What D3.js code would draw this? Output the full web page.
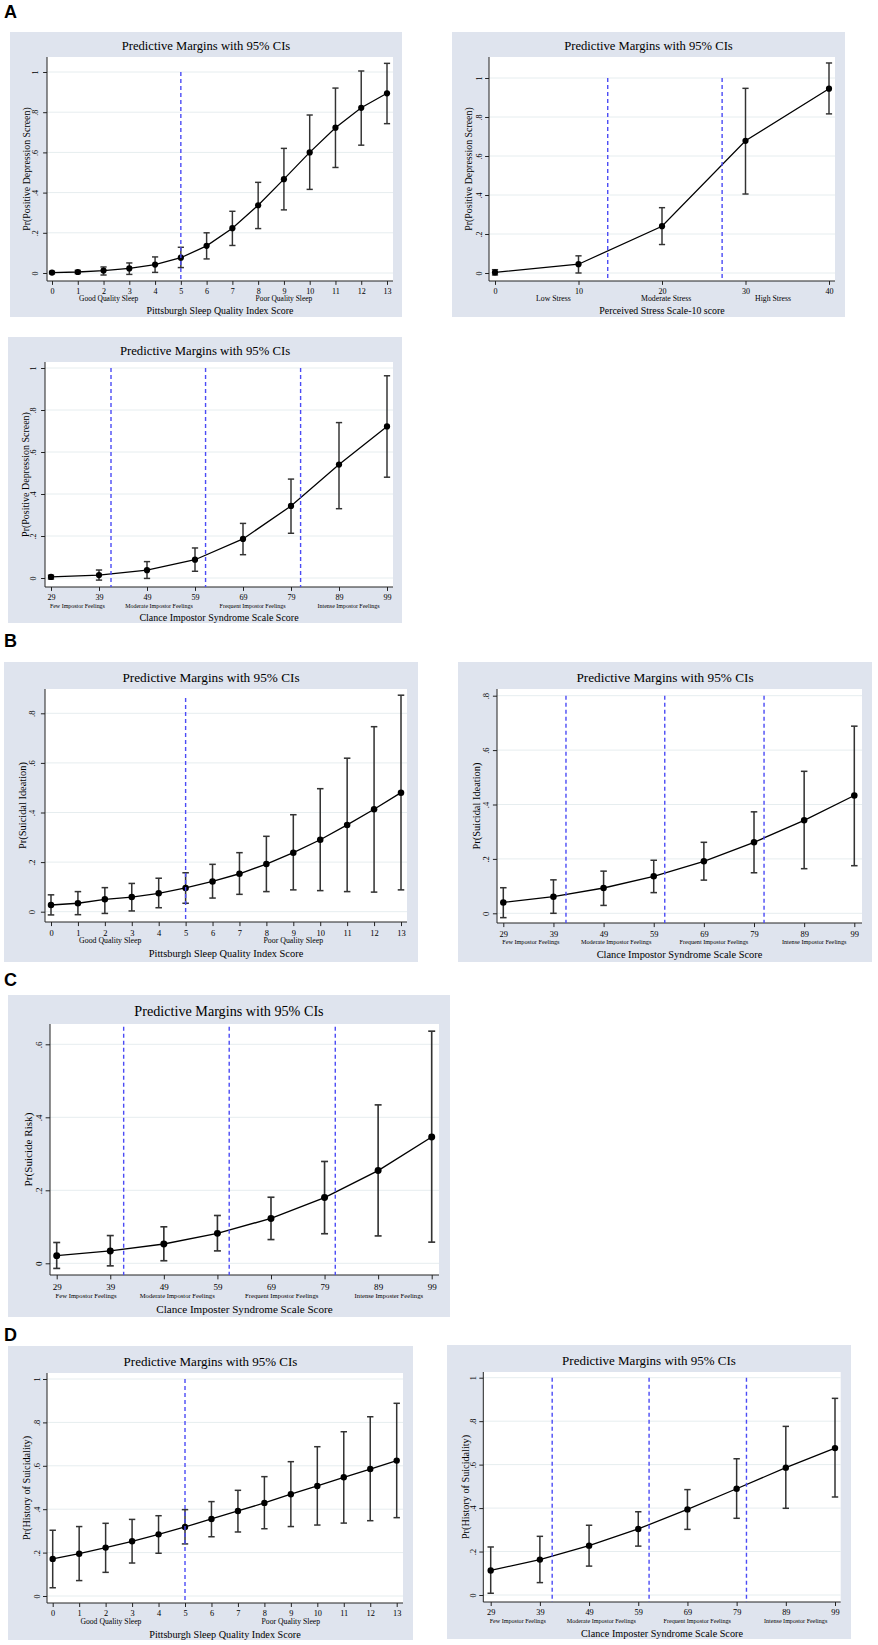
<!DOCTYPE html>
<html>
<head>
<meta charset="utf-8">
<script src="https://cdn.jsdelivr.net/npm/d3@7"></script>
<style>
  body { margin: 0; background: #fff; }
  svg { display: block; }
</style>
</head>
<body>
<svg id="chart" width="878" height="1645"></svg>
<script>
// x categories
const psqiScores = [0, 1, 2, 3, 4, 5, 6, 7, 8, 9, 10, 11, 12, 13];
const pssScores = [0, 10, 20, 30, 40];
const cisScores = [29, 39, 49, 59, 69, 79, 89, 99];

// y tick values
const yTicksTo1 = [0, 0.2, 0.4, 0.6, 0.8, 1];
const yTicksTo08 = [0, 0.2, 0.4, 0.6, 0.8];
const yTicksTo06 = [0, 0.2, 0.4, 0.6];

// A - positive depression screen
const depPsqiMargin = [0.002, 0.005, 0.012, 0.023, 0.042, 0.076, 0.135, 0.223, 0.337, 0.467, 0.600, 0.723, 0.822, 0.894];
const depPsqiLower  = [-0.004, -0.003, -0.010, -0.007, 0.003, 0.027, 0.070, 0.137, 0.221, 0.314, 0.416, 0.525, 0.636, 0.743];
const depPsqiUpper  = [0.008, 0.013, 0.030, 0.050, 0.080, 0.128, 0.200, 0.307, 0.451, 0.620, 0.786, 0.920, 1.005, 1.043];

const depPssMargin = [0.003, 0.045, 0.240, 0.678, 0.945];
const depPssLower  = [-0.010, 0.000, 0.146, 0.405, 0.816];
const depPssUpper  = [0.017, 0.088, 0.335, 0.947, 1.077];

const depCisMargin = [0.005, 0.014, 0.037, 0.087, 0.186, 0.343, 0.540, 0.722];
const depCisLower  = [-0.005, -0.010, -0.002, 0.032, 0.111, 0.213, 0.330, 0.480];
const depCisUpper  = [0.013, 0.038, 0.078, 0.143, 0.260, 0.471, 0.740, 0.963];

// B - suicidal ideation
const ideaPsqiMargin = [0.027, 0.034, 0.050, 0.059, 0.074, 0.096, 0.122, 0.153, 0.192, 0.238, 0.290, 0.350, 0.413, 0.480];
const ideaPsqiLower  = [-0.013, -0.012, -0.007, 0.003, 0.016, 0.034, 0.055, 0.070, 0.081, 0.088, 0.085, 0.081, 0.079, 0.088];
const ideaPsqiUpper  = [0.068, 0.081, 0.097, 0.114, 0.135, 0.157, 0.191, 0.238, 0.304, 0.391, 0.496, 0.619, 0.746, 0.873];

const ideaCisMargin = [0.040, 0.061, 0.093, 0.136, 0.191, 0.261, 0.342, 0.433];
const ideaCisLower  = [-0.016, 0.000, 0.029, 0.076, 0.122, 0.149, 0.164, 0.175];
const ideaCisUpper  = [0.094, 0.123, 0.155, 0.195, 0.261, 0.373, 0.522, 0.688];

// C - suicide risk
const riskCisMargin = [0.021, 0.034, 0.053, 0.082, 0.123, 0.180, 0.254, 0.346];
const riskCisLower  = [-0.014, -0.007, 0.007, 0.034, 0.065, 0.081, 0.075, 0.058];
const riskCisUpper  = [0.057, 0.076, 0.100, 0.131, 0.181, 0.279, 0.434, 0.636];

// D - history of suicidality
const histPsqiMargin = [0.171, 0.195, 0.223, 0.252, 0.284, 0.318, 0.355, 0.392, 0.429, 0.469, 0.507, 0.547, 0.585, 0.624];
const histPsqiLower  = [0.038, 0.071, 0.109, 0.152, 0.197, 0.240, 0.273, 0.295, 0.310, 0.320, 0.327, 0.336, 0.347, 0.361];
const histPsqiUpper  = [0.303, 0.320, 0.335, 0.353, 0.370, 0.398, 0.435, 0.487, 0.550, 0.619, 0.688, 0.757, 0.826, 0.888];

const histCisMargin = [0.113, 0.163, 0.227, 0.304, 0.394, 0.489, 0.586, 0.676];
const histCisLower  = [0.008, 0.057, 0.133, 0.225, 0.302, 0.353, 0.399, 0.451];
const histCisUpper  = [0.221, 0.270, 0.321, 0.383, 0.485, 0.627, 0.776, 0.905];

// cut-offs (dashed lines)
const psqiCutoffs = [5];
const pssCutoffs = [13.5, 27.2];
const cisCutoffs = [41.5, 61.2, 81];

// band labels under the x axis
const psqiBands = ["Good Quality Sleep", "Poor Quality Sleep"];
const psqiBandAt = [2.2, 9.0];
const pssBands = ["Low Stress", "Moderate Stress", "High Stress"];
const pssBandAt = [7, 20.5, 33.3];
const cisBands = ["Few Impostor Feelings", "Moderate Impostor Feelings", "Frequent Impostor Feelings", "Intense Impostor Feelings"];
const cisBandsC = ["Few Impostor Feelings", "Moderate Impostor Feelings", "Frequent Impostor Feelings", "Intense Imposter Feelings"];
const cisBandAt = [34.5, 51.5, 71, 91];

const plotTitle = "Predictive Margins with 95% CIs";
const psqiTitle = "Pittsburgh Sleep Quality Index Score";
const pssTitle = "Perceived Stress Scale-10 score";
const cisTitle = "Clance Impostor Syndrome Scale Score";
const cisTitleAlt = "Clance Imposter Syndrome Scale Score";

const sectionLetters = ["A", "B", "C", "D"];

const svg = d3.select("#chart");
const serif = "'Liberation Serif', 'Times New Roman', serif";
const boxFill = "#dfe4ee";
const gridColour = "#e6edef";
const cutColour = "#4b4bf5";

const fmtY = d => d === 0 ? "0" : d === 1 ? "1" : d3.format(".1f")(d).replace(/^0/, "");

function drawPanel(p) {
  const [bx0, by0, bx1, by1] = p.box;
  const [pl, pt, pr, pb] = p.plot;
  const s = p.s;
  const x = d3.scaleLinear().domain([p.xs[0], p.xs[p.xs.length - 1]]).range(p.xPx);
  const y = d3.scaleLinear().domain([0, p.yTicks[p.yTicks.length - 1]]).range(p.yPx);

  const g = svg.append("g").attr("class", "panel");

  g.append("rect")
    .attr("x", bx0).attr("y", by0)
    .attr("width", bx1 - bx0).attr("height", by1 - by0)
    .attr("fill", boxFill);

  g.append("rect")
    .attr("x", pl).attr("y", pt)
    .attr("width", pr - pl).attr("height", pb - pt)
    .attr("fill", "#fff");

  // grid
  g.append("g").selectAll("line")
    .data(p.yTicks)
    .join("line")
    .attr("x1", pl).attr("x2", pr)
    .attr("y1", d => y(d)).attr("y2", d => y(d))
    .attr("stroke", gridColour)
    .attr("stroke-width", 1);

  // x axis
  const xAxis = g.append("g")
    .attr("transform", `translate(0,${pb})`)
    .call(d3.axisBottom(x).tickValues(p.xs).tickSize(4 * s).tickSizeOuter(0)
      .tickPadding(7.6 * s - 4));
  xAxis.select(".domain").remove();
  xAxis.selectAll("line").attr("stroke", "#222");
  xAxis.selectAll("text")
    .attr("font-family", serif)
    .attr("font-size", 8.3 * s)
    .attr("fill", "#000");

  // y axis
  const yAxis = g.append("g")
    .attr("transform", `translate(${pl},0)`)
    .call(d3.axisLeft(y).tickValues(p.yTicks).tickFormat(fmtY).tickSize(4 * s).tickSizeOuter(0));
  yAxis.select(".domain").remove();
  yAxis.selectAll("line").attr("stroke", "#222");
  yAxis.selectAll("text")
    .attr("x", null)
    .attr("dy", "0.35em")
    .attr("text-anchor", "middle")
    .attr("transform", `translate(${p.yLabX - pl},0) rotate(-90)`)
    .attr("font-family", serif)
    .attr("font-size", 8.3 * s)
    .attr("fill", "#000");

  // axis lines along the plot edges
  g.append("line")
    .attr("x1", pl).attr("x2", pr).attr("y1", pb).attr("y2", pb)
    .attr("stroke", "#222").attr("stroke-width", 1);
  g.append("line")
    .attr("x1", pl).attr("x2", pl).attr("y1", pt).attr("y2", pb)
    .attr("stroke", "#222").attr("stroke-width", 1);

  const pts = p.xs.map((v, i) => ({ x: v, m: p.margin[i], lo: p.lower[i], hi: p.upper[i] }));
  const cap = 3.2 * s;

  // error bars
  const bars = g.append("g").attr("stroke", "#333").attr("stroke-width", 1.5 * s);
  bars.selectAll(".ci")
    .data(pts)
    .join("line")
    .attr("class", "ci")
    .attr("x1", d => x(d.x)).attr("x2", d => x(d.x))
    .attr("y1", d => y(d.lo)).attr("y2", d => y(d.hi));
  bars.selectAll(".capHi")
    .data(pts)
    .join("line")
    .attr("class", "capHi")
    .attr("x1", d => x(d.x) - cap).attr("x2", d => x(d.x) + cap)
    .attr("y1", d => y(d.hi)).attr("y2", d => y(d.hi));
  bars.selectAll(".capLo")
    .data(pts)
    .join("line")
    .attr("class", "capLo")
    .attr("x1", d => x(d.x) - cap).attr("x2", d => x(d.x) + cap)
    .attr("y1", d => y(d.lo)).attr("y2", d => y(d.lo));

  // connecting line
  g.append("path")
    .datum(pts)
    .attr("fill", "none")
    .attr("stroke", "#000")
    .attr("stroke-width", 1.3 * s)
    .attr("d", d3.line().x(d => x(d.x)).y(d => y(d.m)));

  g.append("g").selectAll("circle")
    .data(pts)
    .join("circle")
    .attr("cx", d => x(d.x))
    .attr("cy", d => y(d.m))
    .attr("r", 3.2 * s)
    .attr("fill", "#000");

  // cut-off lines
  g.append("g").selectAll("line")
    .data(p.cuts)
    .join("line")
    .attr("x1", d => x(d)).attr("x2", d => x(d))
    .attr("y1", y(p.lineTop)).attr("y2", pb)
    .attr("stroke", cutColour)
    .attr("stroke-width", 1.4)
    .attr("stroke-dasharray", "4,3");

  // texts
  g.append("text")
    .attr("x", (bx0 + bx1) / 2)
    .attr("y", pt - 7 * s)
    .attr("text-anchor", "middle")
    .attr("font-family", serif)
    .attr("font-size", 13 * p.ts)
    .text(plotTitle);

  g.append("g").selectAll("text")
    .data(p.bands)
    .join("text")
    .attr("x", (d, i) => x(p.bandAt[i]))
    .attr("y", pb + 21 * s)
    .attr("text-anchor", "middle")
    .attr("font-family", serif)
    .attr("font-size", p.bandSize * s)
    .text(d => d);

  g.append("text")
    .attr("x", (pl + pr) / 2)
    .attr("y", pb + 34.5 * s)
    .attr("text-anchor", "middle")
    .attr("font-family", serif)
    .attr("font-size", 10.2 * s)
    .text(p.xTitle);

  g.append("text")
    .attr("transform", `translate(${p.yTitX},${(pt + pb) / 2}) rotate(-90)`)
    .attr("dy", "0.35em")
    .attr("text-anchor", "middle")
    .attr("font-family", serif)
    .attr("font-size", 10.2 * s)
    .text(p.yTitle);
}

const panels = [
  { box: [10, 32, 402, 317], plot: [47, 57, 393, 281], xPx: [52, 387], yPx: [273, 72], s: 0.97, ts: 0.97,
    yLabX: 35, yTitX: 27, lineTop: 1, xs: psqiScores, yTicks: yTicksTo1,
    margin: depPsqiMargin, lower: depPsqiLower, upper: depPsqiUpper, cuts: psqiCutoffs,
    bands: psqiBands, bandAt: psqiBandAt, bandSize: 7.7, xTitle: psqiTitle, yTitle: "Pr(Positive Depression Screen)" },
  { box: [452, 32, 845, 317], plot: [489, 57, 835, 281], xPx: [495, 829], yPx: [273, 78], s: 0.97, ts: 0.97,
    yLabX: 479, yTitX: 469, lineTop: 1, xs: pssScores, yTicks: yTicksTo1,
    margin: depPssMargin, lower: depPssLower, upper: depPssUpper, cuts: pssCutoffs,
    bands: pssBands, bandAt: pssBandAt, bandSize: 8, xTitle: pssTitle, yTitle: "Pr(Positive Depression Screen)" },
  { box: [8, 337, 402, 623], plot: [45, 362, 393, 587], xPx: [51, 387], yPx: [578, 368], s: 0.98, ts: 0.98,
    yLabX: 33, yTitX: 25, lineTop: 1, xs: cisScores, yTicks: yTicksTo1,
    margin: depCisMargin, lower: depCisLower, upper: depCisUpper, cuts: cisCutoffs,
    bands: cisBands, bandAt: cisBandAt, bandSize: 6.1, xTitle: cisTitle, yTitle: "Pr(Positive Depression Screen)" },
  { box: [4, 662, 418, 962], plot: [45, 689, 407, 922], xPx: [51, 401], yPx: [911.7, 713.3], s: 1.02, ts: 1.02,
    yLabX: 32, yTitX: 22, lineTop: 0.862, xs: psqiScores, yTicks: yTicksTo08,
    margin: ideaPsqiMargin, lower: ideaPsqiLower, upper: ideaPsqiUpper, cuts: psqiCutoffs,
    bands: psqiBands, bandAt: psqiBandAt, bandSize: 7.7, xTitle: psqiTitle, yTitle: "Pr(Suicidal Ideation)" },
  { box: [458, 662, 872, 962], plot: [497, 689, 862, 923], xPx: [503.3, 854.3], yPx: [913.3, 695.7], s: 1.02, ts: 1.02,
    yLabX: 486, yTitX: 476.7, lineTop: 0.8, xs: cisScores, yTicks: yTicksTo08,
    margin: ideaCisMargin, lower: ideaCisLower, upper: ideaCisUpper, cuts: cisCutoffs,
    bands: cisBands, bandAt: cisBandAt, bandSize: 6.1, xTitle: cisTitle, yTitle: "Pr(Suicidal Ideation)" },
  { box: [8, 995, 450, 1317], plot: [50, 1024, 439, 1275], xPx: [56.7, 431.7], yPx: [1263.3, 1044.3], s: 1.09, ts: 1.09,
    yLabX: 39.3, yTitX: 28.3, lineTop: 0.648, xs: cisScores, yTicks: yTicksTo06,
    margin: riskCisMargin, lower: riskCisLower, upper: riskCisUpper, cuts: cisCutoffs,
    bands: cisBandsC, bandAt: cisBandAt, bandSize: 6.1, xTitle: cisTitleAlt, yTitle: "Pr(Suicide Risk)" },
  { box: [8, 1346, 413, 1640], plot: [47, 1373, 403, 1603], xPx: [52.7, 396.7], yPx: [1596, 1379], s: 1.0, ts: 1.0,
    yLabX: 36.7, yTitX: 26.7, lineTop: 1, xs: psqiScores, yTicks: yTicksTo1,
    margin: histPsqiMargin, lower: histPsqiLower, upper: histPsqiUpper, cuts: psqiCutoffs,
    bands: psqiBands, bandAt: psqiBandAt, bandSize: 7.7, xTitle: psqiTitle, yTitle: "Pr(History of Suicidality)" },
  { box: [447, 1345, 851, 1639], plot: [483.3, 1372, 840.7, 1602], xPx: [490.7, 835], yPx: [1595, 1377.7], s: 1.0, ts: 1.0,
    yLabX: 473.3, yTitX: 465, lineTop: 1, xs: cisScores, yTicks: yTicksTo1,
    margin: histCisMargin, lower: histCisLower, upper: histCisUpper, cuts: cisCutoffs,
    bands: cisBands, bandAt: cisBandAt, bandSize: 6.1, xTitle: cisTitleAlt, yTitle: "Pr(History of Suicidality)" }
];

panels.forEach(drawPanel);

// section letters
const letterBase = [18, 647, 986, 1341];
svg.append("g").selectAll("text")
  .data(sectionLetters)
  .join("text")
  .attr("x", 4)
  .attr("y", (d, i) => letterBase[i])
  .attr("font-family", "'Liberation Sans', Arial, sans-serif")
  .attr("font-weight", "bold")
  .attr("font-size", 18)
  .text(d => d);
</script>
</body>
</html>
